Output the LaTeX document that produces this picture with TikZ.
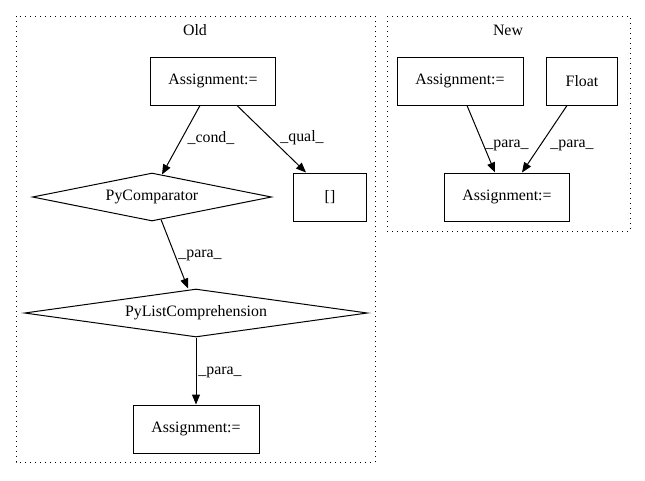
\documentclass[tikz,border=0pt]{standalone}
\usepackage{fontspec}
\setmainfont{Liberation Serif}
\usetikzlibrary{shapes.geometric,arrows.meta}
\begin{document}
\begin{tikzpicture}[x=0.75pt,y=-0.75pt,
  every node/.style={font=\fontsize{11.9}{13}\selectfont, inner sep=0pt},
  box/.style={draw, line width=0.75pt, rectangle},
  dia/.style={draw, line width=0.75pt, diamond},
  edge/.style={line width=0.75pt, -{Triangle[length=7.5pt,width=6pt]}},
  lbl/.style={},
  cluster/.style={line width=0.75pt, dash pattern=on 0.75pt off 3pt}]
\useasboundingbox (0,0) rectangle (645,480);
% clusters
\draw[cluster] (16,16) rectangle (375,462);
\draw[cluster] (387,16) rectangle (630,231);
\node (oldlbl) at (195,30) {Old};
\node (newlbl) at (508,30) {New};
% Old nodes
\node[box, minimum width=125*0.75pt, minimum height=48*0.75pt] (a1) at (213,81) {Assignment:=};
\node[dia, aspect=5, minimum width=239*0.75pt, minimum height=48*0.75pt] (pc) at (152,197) {PyComparator};
\node[box, minimum width=73*0.75pt, minimum height=48*0.75pt] (br) at (330,197) {[]};
\node[dia, aspect=7, minimum width=343*0.75pt, minimum height=48*0.75pt] (plc) at (196,313) {PyListComprehension};
\node[box, minimum width=126*0.75pt, minimum height=48*0.75pt] (a2) at (196,429) {Assignment:=};
% New nodes
\node[box, minimum width=126*0.75pt, minimum height=48*0.75pt] (na1) at (460,81) {Assignment:=};
\node[box, minimum width=71*0.75pt, minimum height=48*0.75pt] (fl) at (582,81) {Float};
\node[box, minimum width=125*0.75pt, minimum height=48*0.75pt] (na2) at (507,197) {Assignment:=};
% edges
\coordinate (a1c) at ([xshift=-13*0.75pt]a1.south);
\draw[edge] (a1c) -- ([xshift=10*0.75pt,yshift=-2*0.75pt]pc.north);
\coordinate (a1q) at ([xshift=24*0.75pt]a1.south);
\draw[edge] (a1q) -- ([xshift=-24*0.75pt]br.north);
\coordinate (pcb) at ([xshift=9*0.75pt,yshift=2*0.75pt]pc.south);
\draw[edge] (pcb) -- ([xshift=-8*0.75pt]plc.north);
\draw[edge] (plc.south) -- (a2.north);
\coordinate (na1b) at ([xshift=7*0.75pt]na1.south);
\draw[edge] (na1b) -- ([xshift=-12*0.75pt]na2.north);
\coordinate (flb) at ([xshift=-15*0.75pt]fl.south);
\draw[edge] (flb) -- ([xshift=15*0.75pt]na2.north);
% edge labels
\node[lbl] (l1) at (211,138) {\_cond\_};
\node[lbl] (l2) at (302,138) {\_qual\_};
\node[lbl] (l3) at (200,255) {\_para\_};
\node[lbl] (l4) at (220,372) {\_para\_};
\node[lbl] (l5) at (507,145) {\_para\_};
\node[lbl] (l6) at (572,145) {\_para\_};
\end{tikzpicture}
\end{document}
